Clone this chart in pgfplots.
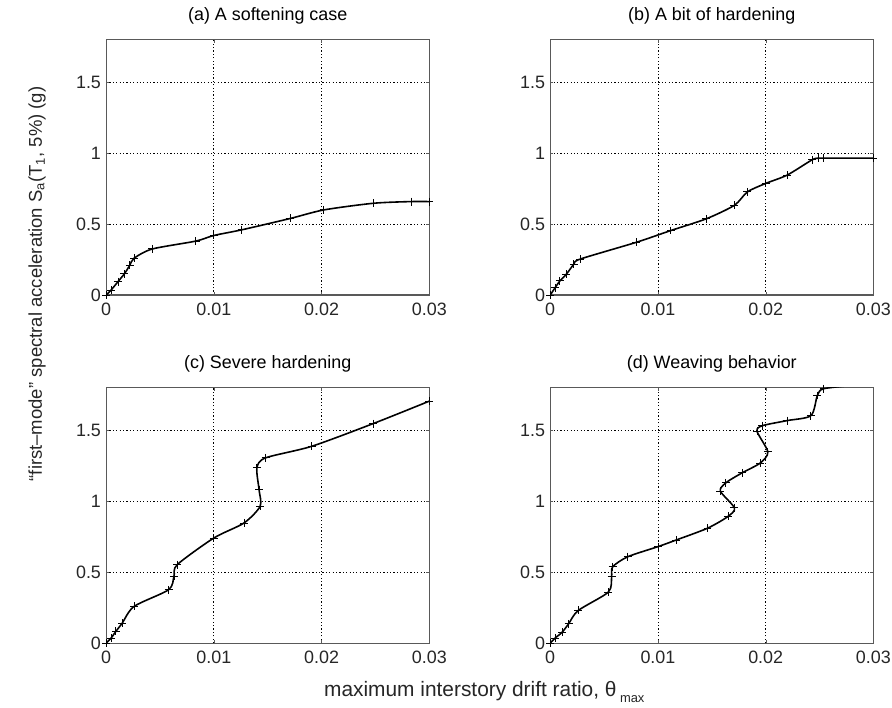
\documentclass[border=0pt]{standalone}
\usepackage{pgfplots}
\pgfplotsset{compat=1.18}
\usepackage{fontspec}
\setmainfont{Liberation Sans}
\begin{document}
\fontsize{18}{21}\selectfont
\pgfplotsset{
  panel/.style={
    scale only axis, width=325pt, height=256.7pt,
    anchor=south west,
    xmin=0, xmax=0.03, ymin=0, ymax=1.8,
    scaled x ticks=false, scaled y ticks=false,
    xtick={0,0.01,0.02,0.03}, xticklabels={0,0.01,0.02,0.03},
    ytick={0,0.5,1,1.5}, yticklabels={0,0.5,1,1.5},
    grid=major,
    major grid style={black, dash pattern=on 1.2pt off 2.2pt, line width=0.8pt},
    axis line style={line width=1.1pt, black!65},
    tick align=inside, major tick length=3pt,
    tick style={black!65},
    ticklabel style={font=\fontsize{18}{21}\selectfont, text=black!85},
    xticklabel style={yshift=-2pt},
    yticklabel style={xshift=1pt},
    title style={font=\fontsize{18}{21}\selectfont, yshift=3pt},
    /pgf/number format/assume math mode=true,
    clip=true,
  },
  curve/.style={black, line width=1.6pt, smooth, tension=0.45, mark=+, mark size=4pt, mark options={line width=0.9pt}},
}
\begin{tikzpicture}
\path[use as bounding box] (0,0) rectangle (892pt,711pt);
\begin{axis}[panel, at={(101.7pt,414.3pt)}, title={(a) A softening case}]
\addplot[curve] coordinates {
(0,0) (0.00046,0.035) (0.0011,0.094) (0.0017,0.15) (0.0022,0.21) (0.0026,0.26)
(0.0043,0.325) (0.0083,0.38) (0.0100,0.42) (0.0126,0.46) (0.0171,0.54)
(0.0202,0.60) (0.0248,0.647) (0.0283,0.659) (0.030,0.659)};
\end{axis}
\begin{axis}[panel, at={(548.3pt,414.3pt)}, title={(b) A bit of hardening}]
\addplot[curve] coordinates {
(0,0) (0.00046,0.052) (0.0009,0.10) (0.0015,0.147) (0.0022,0.218) (0.0028,0.254)
(0.008,0.372) (0.0112,0.455) (0.0145,0.538) (0.0171,0.633) (0.0183,0.727)
(0.020,0.787) (0.022,0.846) (0.0243,0.953) (0.0249,0.965) (0.0254,0.965) (0.030,0.965)};
\end{axis}
\begin{axis}[panel, at={(101.7pt,64.3pt)}, title={(c) Severe hardening}]
\addplot[curve] coordinates {
(0,0) (0.00046,0.035) (0.0009,0.082) (0.0015,0.141) (0.0026,0.259) (0.0058,0.376)
(0.0063,0.47) (0.0066,0.553) (0.0100,0.741) (0.0128,0.847) (0.0143,0.965)
(0.0142,1.08) (0.0140,1.235) (0.0148,1.306) (0.0191,1.388) (0.0248,1.548) (0.030,1.706)};
\end{axis}
\begin{axis}[panel, at={(548.3pt,64.3pt)}, title={(d) Weaving behavior}]
\addplot[curve] coordinates {
(0,0) (0.00046,0.036) (0.0011,0.076) (0.0017,0.135) (0.0026,0.23) (0.0054,0.36)
(0.0057,0.467) (0.0058,0.538) (0.0072,0.609) (0.0100,0.68) (0.0117,0.727)
(0.0146,0.81) (0.0165,0.893) (0.0171,0.953) (0.0158,1.071) (0.0163,1.13)
(0.0178,1.2) (0.0195,1.27) (0.0202,1.348) (0.0192,1.493) (0.0197,1.533)
(0.022,1.569) (0.0242,1.604) (0.0248,1.746) (0.0254,1.794) (0.0285,1.82)};
\end{axis}
\node[rotate=90, anchor=base, text=black!85, font=\fontsize{18.6}{22}\selectfont] at (37pt,425.5pt)
  {“first–mode” spectral acceleration S\textsubscript{a}(T\textsubscript{1}, 5\%) (g)};
\node[anchor=base, text=black!85, font=\fontsize{21}{25}\selectfont] at (482pt,11pt)
  {maximum interstory drift ratio, θ\,\raisebox{-6pt}{\fontsize{13}{15}\selectfont max}};
\end{tikzpicture}
\end{document}
